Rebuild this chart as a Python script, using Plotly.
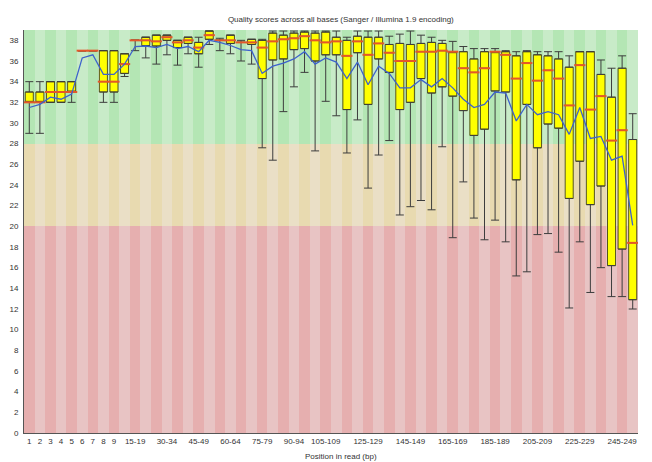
import plotly.graph_objects as go

# Position groups (x categories)
categories = ["1", "2", "3", "4", "5", "6", "7", "8", "9",
              "10-14", "15-19", "20-24", "25-29", "30-34", "35-39", "40-44", "45-49",
              "50-54", "55-59", "60-64", "65-69", "70-74", "75-79", "80-84", "85-89",
              "90-94", "95-99", "100-104", "105-109", "110-114", "115-119", "120-124",
              "125-129", "130-134", "135-139", "140-144", "145-149", "150-154", "155-159",
              "160-164", "165-169", "170-174", "175-179", "180-184", "185-189", "190-194",
              "195-199", "200-204", "205-209", "210-214", "215-219", "220-224", "225-229",
              "230-234", "235-239", "240-244", "245-249", "250-251"]

# 10th percentile (lower whisker)
lower = [29, 29, 32, 32, 32, 37, 37, 32, 32, 34.5,
         37.0, 36.3, 35.7, 36.6, 35.6, 36.7, 35.4, 37.6, 37.0, 36.7,
         36.0, 35.7, 27.6, 26.4, 31.1, 33.5, 34.9, 27.3, 32.1, 30.7,
         27.1, 30.3, 23.7, 26.9, 28.3, 21.1, 21.9, 22.5, 21.6, 27.7,
         18.9, 24.3, 20.8, 18.7, 20.6, 18.5, 15.2, 15.6, 19.2, 19.3,
         17.5, 12.1, 18.5, 13.6, 16.0, 13.2, 13.2, 12.0]
# lower quartile
q1 = [32, 32, 32, 32, 33, 37, 37, 33, 33, 34.8,
      38.0, 37.5, 37.45, 38.0, 37.3, 37.7, 36.7, 38.1, 38.0, 37.7,
      37.8, 37.6, 34.3, 36.1, 36.2, 37.1, 37.2, 36.0, 36.6, 36.6,
      31.3, 36.8, 31.8, 36.2, 34.9, 31.3, 32.0, 34.3, 32.9, 33.5,
      32.6, 31.2, 28.8, 29.4, 33.1, 33.0, 24.5, 31.8, 27.6, 29.9,
      29.5, 22.7, 26.3, 22.1, 23.9, 16.2, 17.8, 12.9]
# median
median = [32, 32, 33, 33, 33, 37, 37, 34, 34, 35.7,
          38.0, 38.0, 37.9, 38.3, 37.8, 38.0, 37.3, 38.5, 38.0, 38.0,
          37.8, 37.8, 37.3, 37.9, 38.1, 38.2, 38.4, 38.0, 37.8, 37.9,
          36.5, 37.9, 36.6, 37.7, 36.8, 36.0, 36.0, 36.9, 36.9, 37.0,
          36.9, 35.3, 34.9, 35.3, 36.9, 36.6, 34.3, 35.8, 34.1, 35.1,
          34.3, 31.7, 35.6, 31.3, 32.6, 28.3, 29.3, 18.4]
# upper quartile
q3 = [33, 33, 34, 34, 34, 37, 37, 37, 37, 36.7,
      38.0, 38.3, 38.5, 38.5, 38.0, 38.3, 37.8, 38.9, 38.0, 38.5,
      37.8, 38.1, 38.0, 38.7, 38.5, 38.7, 38.8, 38.7, 38.8, 38.3,
      38.0, 38.4, 38.3, 38.3, 37.6, 37.7, 37.6, 37.7, 37.8, 37.7,
      36.9, 36.9, 36.2, 36.9, 36.9, 36.9, 36.5, 36.9, 36.6, 36.5,
      36.2, 35.4, 36.9, 36.9, 34.7, 32.5, 35.3, 28.4]
# 90th percentile (upper whisker)
upper = [34, 34, 34, 34, 34, 37, 37, 37, 37, 36.7,
         38.0, 38.3, 38.5, 38.5, 38.0, 38.3, 38.3, 38.9, 38.2, 38.5,
         38.0, 38.1, 38.1, 38.9, 38.9, 38.9, 38.9, 38.9, 38.9, 38.9,
         38.3, 38.9, 38.9, 38.9, 38.4, 38.6, 38.9, 38.5, 38.3, 38.0,
         37.9, 37.4, 37.2, 37.2, 37.2, 37.0, 36.9, 37.0, 36.9, 36.9,
         36.9, 36.5, 36.9, 36.9, 36.1, 35.3, 36.5, 30.9]
# mean quality
mean = [31.5, 31.8, 32.5, 32.3, 32.8, 36.3, 36.6, 34.7, 34.7, 35.7,
        37.4, 37.45, 37.3, 37.6, 37.2, 37.4, 36.9, 38.0, 37.8, 37.5,
        37.1, 37.0, 34.8, 35.5, 35.8, 36.2, 36.9, 35.7, 36.3, 35.9,
        34.3, 35.9, 33.7, 35.5, 34.8, 33.4, 33.4, 34.2, 33.5, 34.3,
        33.4, 32.3, 31.5, 31.8, 33.0, 32.9, 30.2, 31.8, 30.8, 31.1,
        30.8, 28.9, 31.5, 28.5, 28.7, 26.4, 26.8, 20.1]

# Quality zones (red / orange / green) and y-axis ticks
zone_bounds = [0, 20, 28, 39]
y_ticks = [0, 2, 4, 6, 8, 10, 12, 14, 16, 18, 20, 22, 24, 26, 28, 30, 32, 34, 36, 38]
x_tick_labels = ["1", "2", "3", "4", "5", "6", "7", "8", "9", "15-19", "30-34", "45-49",
                 "60-64", "75-79", "90-94", "105-109", "125-129", "145-149", "165-169",
                 "185-189", "205-209", "225-229", "245-249"]

zone_colors = [("#e6afaf", "#e8c4c4"),   # red
               ("#e8dab0", "#eadfc6"),   # orange
               ("#b4e6b4", "#c8ebc8")]   # green

fig = go.Figure()

n = len(categories)
for zi in range(3):
    dark, light = zone_colors[zi]
    cols = [dark if i % 2 == 0 else light for i in range(n)]
    fig.add_trace(go.Bar(
        x=categories,
        y=[zone_bounds[zi + 1] - zone_bounds[zi]] * n,
        base=[zone_bounds[zi]] * n,
        width=1.0,
        marker=dict(color=cols, line=dict(width=0)),
        hoverinfo="skip",
    ))

fig.add_trace(go.Box(
    x=categories, q1=q1, median=median, q3=q3,
    lowerfence=q1, upperfence=q3,
    width=0.76, whiskerwidth=0,
    fillcolor="#ffff00",
    line=dict(color="#55551a", width=1),
    boxpoints=False, hoverinfo="skip",
))

# lower whiskers (q1 -> 10th pct)
fig.add_trace(go.Scatter(
    x=categories, y=q1, mode="markers",
    marker=dict(size=1, color="rgba(0,0,0,0)"),
    error_y=dict(type="data", symmetric=False,
                 array=[0] * n,
                 arrayminus=[a - b for a, b in zip(q1, lower)],
                 color="#3d3d3d", thickness=1, width=4),
    hoverinfo="skip",
))
# upper whiskers (q3 -> 90th pct)
fig.add_trace(go.Scatter(
    x=categories, y=q3, mode="markers",
    marker=dict(size=1, color="rgba(0,0,0,0)"),
    error_y=dict(type="data", symmetric=False,
                 array=[a - b for a, b in zip(upper, q3)],
                 arrayminus=[0] * n,
                 color="#3d3d3d", thickness=1, width=4),
    hoverinfo="skip",
))

# medians
fig.add_trace(go.Scatter(
    x=categories, y=median, mode="markers",
    marker=dict(symbol="line-ew", size=8, line=dict(width=2, color="#e4572a")),
    hoverinfo="skip",
))

# mean line
fig.add_trace(go.Scatter(
    x=categories, y=mean, mode="lines",
    line=dict(color="#3d62cc", width=1.3),
    hoverinfo="skip",
))

font_family = "Liberation Sans, Arial, sans-serif"

fig.update_layout(
    width=652, height=462,
    margin=dict(l=24, r=14, t=30, b=29, autoexpand=False),
    paper_bgcolor="white", plot_bgcolor="white",
    showlegend=False,
    barmode="overlay", bargap=0,
    font=dict(family=font_family, size=8, color="#333333"),
    title=dict(text="Quality scores across all bases (Sanger / Illumina 1.9 encoding)",
               x=0.516, xref="paper", xanchor="center",
               y=1 - 19 / 462, yref="container", yanchor="middle",
               automargin=False,
               font=dict(size=8, color="#333333", family=font_family)),
    xaxis=dict(type="category", categoryorder="array", categoryarray=categories,
               range=[-0.5, n - 0.5], automargin=False,
               tickmode="array", tickvals=x_tick_labels, ticktext=x_tick_labels,
               ticks="", showgrid=False, zeroline=False,
               showline=True, linecolor="#555555", linewidth=1,
               tickfont=dict(size=8, color="#333333")),
    yaxis=dict(range=[zone_bounds[0], zone_bounds[-1]], automargin=False,
               tickmode="array", tickvals=y_ticks,
               ticks="", showgrid=False, zeroline=False,
               showline=True, linecolor="#555555", linewidth=1,
               ticklabelstandoff=3,
               tickfont=dict(size=8, color="#333333")),
    annotations=[dict(text="Position in read (bp)", xref="paper", yref="paper",
                      x=0.516, y=-23 / 403, xanchor="center", yanchor="middle",
                      showarrow=False, font=dict(size=8, color="#333333"))],
)

fig.write_html("out.html",
               config={"displayModeBar": False},
               post_script="document.body.style.margin='0';document.body.style.overflow='hidden';")
